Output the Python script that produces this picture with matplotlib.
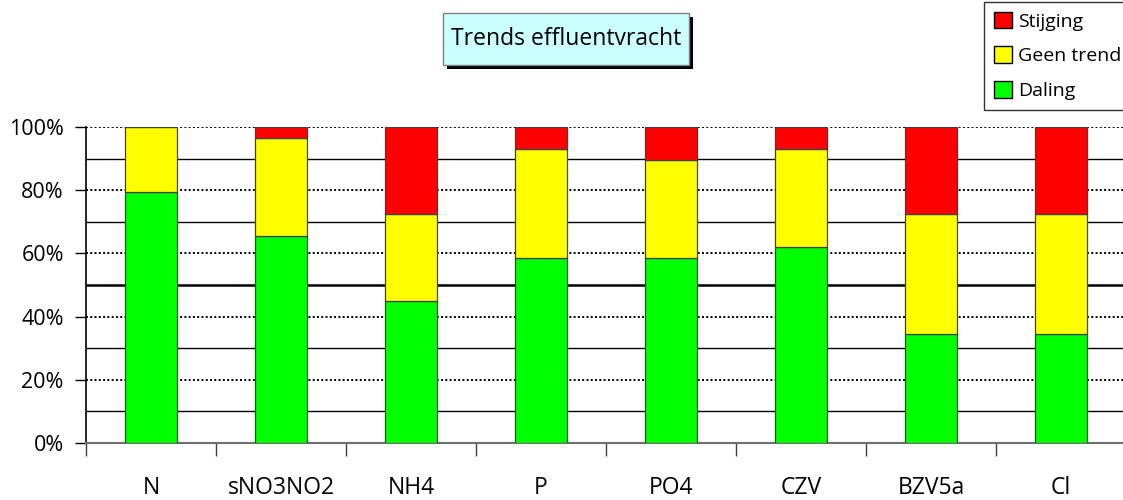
import matplotlib
matplotlib.use("Agg")
import matplotlib.pyplot as plt
from matplotlib.patches import Rectangle, Patch
import numpy as np

categories = ["N", "sNO3NO2", "NH4", "P", "PO4", "CZV", "BZV5a", "Cl"]
daling = [79.3, 65.5, 44.8, 58.6, 58.6, 62.1, 34.5, 34.5]
geen_trend = [20.7, 31.0, 27.6, 34.5, 31.0, 31.0, 37.9, 37.9]
stijging = [0.0, 3.5, 27.6, 6.9, 10.4, 6.9, 27.6, 27.6]
yticks = [0, 20, 40, 60, 80, 100]
ytick_labels = ["0%", "20%", "40%", "60%", "80%", "100%"]
series_names = ["Daling", "Geen trend", "Stijging"]
title = "Trends effluentvracht"

colors = ["#00FF00", "#FFFF00", "#FF0000"]
FONT = ["Open Sans", "DejaVu Sans"]
plt.rcParams["font.family"] = FONT

W, H = 1123, 500
fig = plt.figure(figsize=(W / 100, H / 100), dpi=100)
ax = fig.add_axes([86 / W, 57 / H, (1126 - 86) / W, 316 / H])

x = np.arange(len(categories))
bottom = np.zeros(len(categories))
handles = []
for vals, col, name in zip([daling, geen_trend, stijging], colors, series_names):
    v = np.array(vals)
    ax.bar(x, v, width=0.4, bottom=bottom, color=col, edgecolor="#404040",
           linewidth=0.9, zorder=3)
    bottom += v
    handles.append(Patch(facecolor=col, edgecolor="black", linewidth=1.0, label=name))

ax.set_xlim(-0.5, len(categories) - 0.5)
ax.set_ylim(0, 100)

# grid lines
for yv in [10, 30, 70, 90]:
    ax.axhline(yv, color="black", lw=1.0, zorder=1)
ax.axhline(50, color="black", lw=1.8, zorder=1)
for yv in [20, 40, 60, 80, 100]:
    ax.axhline(yv, color="black", lw=1.4, ls=(0, (1.0, 1.2)), zorder=1)

ax.set_yticks(yticks)
ax.set_yticklabels(ytick_labels, fontsize=15.5)
ax.tick_params(axis="y", direction="out", length=8, width=1, pad=8, colors="black")

ax.set_xticks(np.arange(len(categories) + 1) - 0.5, minor=False)
ax.set_xticklabels([""] * (len(categories) + 1))
ax.set_xticks(x, minor=True)
ax.set_xticklabels(categories, minor=True, fontsize=16.5)
ax.tick_params(axis="x", which="major", direction="out", length=9, width=1, color="#404040")
ax.tick_params(axis="x", which="minor", length=0, pad=24)

for s in ["top", "right"]:
    ax.spines[s].set_visible(False)
ax.spines["left"].set_color("black")
ax.spines["left"].set_linewidth(1.2)
ax.spines["bottom"].set_color("#707070")
ax.spines["bottom"].set_linewidth(1.5)
ax.set_facecolor("white")

# title box with shadow
tx0, tx1, ty0, ty1 = 443, 689, 13, 65
fig.patches.append(Rectangle(((tx0 + 4) / W, 1 - (ty1 + 4) / H), (tx1 - tx0) / W,
                             (ty1 - ty0) / H, transform=fig.transFigure,
                             facecolor="black", edgecolor="none", zorder=1))
fig.patches.append(Rectangle((tx0 / W, 1 - ty1 / H), (tx1 - tx0) / W, (ty1 - ty0) / H,
                             transform=fig.transFigure, facecolor="#CCFFFF",
                             edgecolor="#808080", linewidth=1.0, zorder=2))
fig.text((tx0 + tx1) / 2 / W, 1 - (ty0 + ty1) / 2 / H, title, ha="center", va="center",
         fontsize=16.5, zorder=3)

# legend
leg = fig.legend(handles=handles[::-1], loc="upper left",
                 bbox_to_anchor=(984 / W, 1 - 2 / H), fontsize=14,
                 frameon=True, fancybox=False, edgecolor="black",
                 handlelength=0.95, handleheight=0.95, handletextpad=0.3,
                 labelspacing=0.8, borderpad=0.5, borderaxespad=0)
leg.get_frame().set_linewidth(1.0)

fig.savefig("out.png", dpi=100, facecolor="white")
